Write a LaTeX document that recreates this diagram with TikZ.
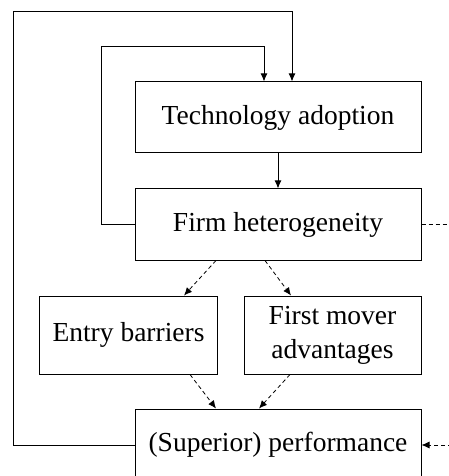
\documentclass[tikz,border=0pt]{standalone}
\usepackage{fontspec}
\setmainfont{Liberation Serif}
\usetikzlibrary{arrows.meta}
\begin{document}
\begin{tikzpicture}[x=1bp,y=-1bp,
  box/.style={draw, line width=1bp, minimum width=286bp, minimum height=71bp,
    inner sep=0pt, align=center, font=\fontsize{27.5bp}{34bp}\selectfont},
  smallbox/.style={box, minimum width=177bp, minimum height=78bp},
  link/.style={line width=1bp, -{Latex[length=8bp,width=7bp]}},
  dlink/.style={line width=0.8bp, dash pattern=on 4bp off 3bp, -{Latex[length=8bp,width=7bp]}},
  dline/.style={line width=0.8bp, dash pattern=on 4bp off 3bp}]
  \useasboundingbox (0,0) rectangle (449,476);
  \clip (0,0) rectangle (449,476);

  % boxes
  \node[box] (tech) at (278,117.5) {Technology adoption};
  \node[box] (firm) at (278,224.5) {Firm heterogeneity};
  \node[smallbox] (entry) at (128.5,335) {Entry barriers};
  \node[smallbox] (fm) at (332.5,335) {First mover\\advantages};
  \node[box, minimum height=72bp] (perf) at (278,445) {(Superior) performance};

  % solid links
  \draw[link] (tech.south) -- (firm.north);
  \draw[link] (firm.west) -| (101,47) -| ([xshift=-14bp]tech.north);
  \draw[link] (perf.west) -| (13,11.5) -| ([xshift=14bp]tech.north);

  % dashed links
  \draw[dlink] ([xshift=-62bp]firm.south) -- ([xshift=55.5bp]entry.north);
  \draw[dlink] ([xshift=-13bp]firm.south) -- ([xshift=-41.5bp]fm.north);
  \draw[dlink] ([xshift=61.5bp]entry.south) -- ([xshift=-62bp]perf.north);
  \draw[dlink] ([xshift=-42.5bp]fm.south) -- ([xshift=-19bp]perf.north);

  % loose dashed ends on the right
  \coordinate (outA) at (452,224.5);
  \coordinate (outB) at (452,445);
  \draw[dline] (firm.east) -- (outA);
  \draw[dlink] (outB) -- (perf.east);
\end{tikzpicture}
\end{document}
